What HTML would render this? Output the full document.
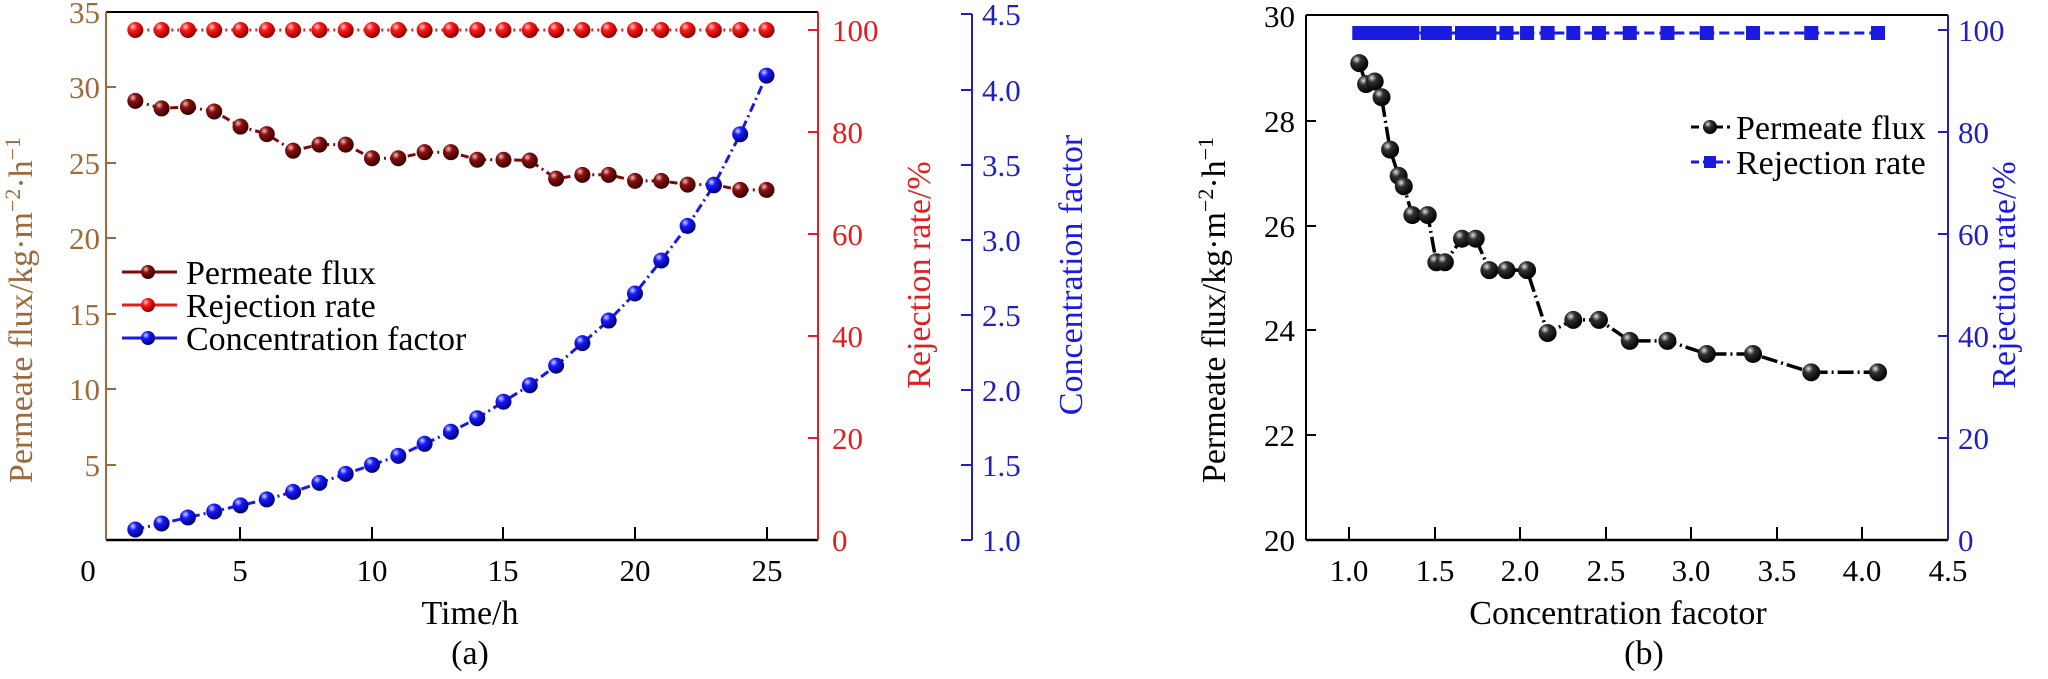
<!DOCTYPE html>
<html><head><meta charset="utf-8"><style>
html,body{margin:0;padding:0;background:#fff;}
svg{display:block;}
svg text, svg tspan{font-family:"Liberation Serif","Times New Roman",serif;}
</style></head><body>
<svg id="s" width="2048" height="679" viewBox="0 0 2048 679" xmlns="http://www.w3.org/2000/svg" font-family="Liberation Serif, serif">
<defs>
<radialGradient id="gBr" cx="0.35" cy="0.3" r="0.7"><stop offset="0" stop-color="#f0c0c0"/><stop offset="0.35" stop-color="#8b1010"/><stop offset="1" stop-color="#3a0000"/></radialGradient>
<radialGradient id="gRd" cx="0.35" cy="0.3" r="0.7"><stop offset="0" stop-color="#ffd0d0"/><stop offset="0.35" stop-color="#ff1a1a"/><stop offset="1" stop-color="#900000"/></radialGradient>
<radialGradient id="gBl" cx="0.35" cy="0.3" r="0.7"><stop offset="0" stop-color="#d0d8ff"/><stop offset="0.35" stop-color="#1a1aff"/><stop offset="1" stop-color="#00007a"/></radialGradient>
<radialGradient id="gBk" cx="0.35" cy="0.3" r="0.7"><stop offset="0" stop-color="#e0e0e0"/><stop offset="0.35" stop-color="#303030"/><stop offset="1" stop-color="#000"/></radialGradient>
</defs>

<!-- ===== Chart (a) ===== -->
<line x1="106" y1="12" x2="818" y2="12" stroke="#000" stroke-width="2"/>
<line x1="106" y1="540" x2="818" y2="540" stroke="#000" stroke-width="2.5"/>
<line x1="106" y1="12" x2="106" y2="540" stroke="#9c6b3c" stroke-width="2"/>
<line x1="818" y1="12" x2="818" y2="540" stroke="#e02020" stroke-width="2"/>
<line x1="972" y1="14" x2="972" y2="540" stroke="#2020c0" stroke-width="2"/>
<g stroke="#9c6b3c" stroke-width="2">
<line x1="106" y1="87" x2="116" y2="87"/><line x1="106" y1="163" x2="116" y2="163"/><line x1="106" y1="238" x2="116" y2="238"/><line x1="106" y1="314" x2="116" y2="314"/><line x1="106" y1="389" x2="116" y2="389"/><line x1="106" y1="465" x2="116" y2="465"/>
</g>
<g fill="#9c6b3c" font-size="31" text-anchor="end">
<text x="100" y="23">35</text><text x="100" y="98">30</text><text x="100" y="174">25</text><text x="100" y="249">20</text><text x="100" y="325">15</text><text x="100" y="400">10</text><text x="100" y="476">5</text>
</g>
<text transform="translate(32,310) rotate(-90)" fill="#9c6b3c" font-size="34" text-anchor="middle">Permeate flux/kg·m<tspan dy="-12" font-size="22">−2</tspan><tspan dy="12">·h</tspan><tspan dy="-12" font-size="22">−1</tspan></text>
<g stroke="#000" stroke-width="2">
<line x1="240" y1="540" x2="240" y2="527"/><line x1="372" y1="540" x2="372" y2="527"/><line x1="503" y1="540" x2="503" y2="527"/><line x1="635" y1="540" x2="635" y2="527"/><line x1="767" y1="540" x2="767" y2="527"/>
</g>
<g fill="#000" font-size="31" text-anchor="middle">
<text x="88" y="581">0</text><text x="240" y="581">5</text><text x="372" y="581">10</text><text x="503" y="581">15</text><text x="635" y="581">20</text><text x="767" y="581">25</text>
</g>
<text x="470" y="624" font-size="34" text-anchor="middle">Time/h</text>
<text x="470" y="664" font-size="34" text-anchor="middle">(a)</text>
<g stroke="#e02020" stroke-width="2">
<line x1="808" y1="30" x2="818" y2="30"/><line x1="808" y1="132" x2="818" y2="132"/><line x1="808" y1="234" x2="818" y2="234"/><line x1="808" y1="336" x2="818" y2="336"/><line x1="808" y1="438" x2="818" y2="438"/>
</g>
<g fill="#e02020" font-size="31">
<text x="832" y="41">100</text><text x="832" y="143">80</text><text x="832" y="245">60</text><text x="832" y="347">40</text><text x="832" y="449">20</text><text x="832" y="551">0</text>
</g>
<text transform="translate(930,275) rotate(-90)" fill="#e02020" font-size="34" text-anchor="middle">Rejection rate/%</text>
<g stroke="#2020c0" stroke-width="2">
<line x1="961" y1="14" x2="972" y2="14"/><line x1="961" y1="90" x2="972" y2="90"/><line x1="961" y1="165" x2="972" y2="165"/><line x1="961" y1="240" x2="972" y2="240"/><line x1="961" y1="315" x2="972" y2="315"/><line x1="961" y1="390" x2="972" y2="390"/><line x1="961" y1="465" x2="972" y2="465"/><line x1="961" y1="540" x2="972" y2="540"/>
</g>
<g fill="#2020c0" font-size="31">
<text x="982" y="25">4.5</text><text x="982" y="101">4.0</text><text x="982" y="176">3.5</text><text x="982" y="251">3.0</text><text x="982" y="326">2.5</text><text x="982" y="401">2.0</text><text x="982" y="476">1.5</text><text x="982" y="551">1.0</text>
</g>
<text transform="translate(1082,275) rotate(-90)" fill="#1a1ae0" font-size="34" text-anchor="middle">Concentration factor</text>

<g id="aseries"></g>
<!-- legend a -->
<g stroke-width="3">
<line x1="122" y1="272" x2="177" y2="272" stroke="#7a0a0a"/>
<line x1="122" y1="305" x2="177" y2="305" stroke="#e02020"/>
<line x1="122" y1="338" x2="177" y2="338" stroke="#1a1ae0"/>
</g>
<circle cx="148" cy="272" r="7" fill="url(#gBr)"/>
<circle cx="148" cy="305" r="7" fill="url(#gRd)"/>
<circle cx="148" cy="338" r="7" fill="url(#gBl)"/>
<g font-size="34" fill="#000">
<text x="186" y="284">Permeate flux</text><text x="186" y="317">Rejection rate</text><text x="186" y="350">Concentration factor</text>
</g>

<!-- ===== Chart (b) ===== -->
<line x1="1306" y1="15" x2="1948" y2="15" stroke="#000" stroke-width="2"/>
<line x1="1306" y1="540" x2="1948" y2="540" stroke="#000" stroke-width="2.5"/>
<line x1="1306" y1="15" x2="1306" y2="540" stroke="#000" stroke-width="2"/>
<line x1="1948" y1="15" x2="1948" y2="540" stroke="#2020c0" stroke-width="2"/>
<g stroke="#000" stroke-width="2">
<line x1="1306" y1="121" x2="1316" y2="121"/><line x1="1306" y1="226" x2="1316" y2="226"/><line x1="1306" y1="330" x2="1316" y2="330"/><line x1="1306" y1="435" x2="1316" y2="435"/>
<line x1="1349" y1="540" x2="1349" y2="527"/><line x1="1435" y1="540" x2="1435" y2="527"/><line x1="1520" y1="540" x2="1520" y2="527"/><line x1="1606" y1="540" x2="1606" y2="527"/><line x1="1691" y1="540" x2="1691" y2="527"/><line x1="1777" y1="540" x2="1777" y2="527"/><line x1="1862" y1="540" x2="1862" y2="527"/>
</g>
<g fill="#000" font-size="31" text-anchor="end">
<text x="1295" y="27">30</text><text x="1295" y="132">28</text><text x="1295" y="237">26</text><text x="1295" y="341">24</text><text x="1295" y="446">22</text><text x="1295" y="551">20</text>
</g>
<g fill="#000" font-size="31" text-anchor="middle">
<text x="1349" y="581">1.0</text><text x="1435" y="581">1.5</text><text x="1520" y="581">2.0</text><text x="1606" y="581">2.5</text><text x="1691" y="581">3.0</text><text x="1777" y="581">3.5</text><text x="1862" y="581">4.0</text><text x="1948" y="581">4.5</text>
</g>
<text transform="translate(1225,310) rotate(-90)" fill="#000" font-size="34" text-anchor="middle">Permeate flux/kg·m<tspan dy="-12" font-size="22">−2</tspan><tspan dy="12">·h</tspan><tspan dy="-12" font-size="22">−1</tspan></text>
<text x="1618" y="624" font-size="34" text-anchor="middle">Concentration facotor</text>
<text x="1644" y="664" font-size="34" text-anchor="middle">(b)</text>
<g stroke="#2020c0" stroke-width="2">
<line x1="1938" y1="30" x2="1948" y2="30"/><line x1="1938" y1="132" x2="1948" y2="132"/><line x1="1938" y1="234" x2="1948" y2="234"/><line x1="1938" y1="336" x2="1948" y2="336"/><line x1="1938" y1="438" x2="1948" y2="438"/>
</g>
<g fill="#2020c0" font-size="31">
<text x="1958" y="41">100</text><text x="1958" y="143">80</text><text x="1958" y="245">60</text><text x="1958" y="347">40</text><text x="1958" y="449">20</text><text x="1958" y="551">0</text>
</g>
<text transform="translate(2015,275) rotate(-90)" fill="#1a1ae0" font-size="34" text-anchor="middle">Rejection rate/%</text>
<g id="bseries"></g>
<!-- legend b -->
<line x1="1691" y1="127" x2="1730" y2="127" stroke="#000" stroke-width="3" stroke-dasharray="8,4"/>
<circle cx="1710" cy="127" r="7" fill="url(#gBk)"/>
<line x1="1691" y1="162" x2="1730" y2="162" stroke="#1a1ae0" stroke-width="3" stroke-dasharray="8,4"/>
<rect x="1704" y="156" width="12" height="12" fill="#1a1ae0"/>
<g font-size="34" fill="#000">
<text x="1736" y="139">Permeate flux</text><text x="1736" y="174">Rejection rate</text>
</g>
</svg>
<script>
var NS="http://www.w3.org/2000/svg";
function el(p,t,a){var e=document.createElementNS(NS,t);for(var k in a)e.setAttribute(k,a[k]);p.appendChild(e);return e;}
var flux=[29.1,28.7,28.75,28.45,27.45,26.95,26.75,26.2,26.2,25.3,25.3,25.75,25.75,25.15,25.15,25.15,23.95,24.2,24.2,23.8,23.8,23.55,23.55,23.2,23.2];
var fluxA=[29.1,28.6,28.7,28.4,27.4,26.9,25.8,26.2,26.2,25.3,25.3,25.7,25.7,25.2,25.2,25.15,23.95,24.2,24.2,23.8,23.8,23.55,23.55,23.2,23.2];
var conc=[1.06,1.10,1.15,1.19,1.24,1.29,1.32,1.37,1.46,1.51,1.56,1.66,1.74,1.82,1.92,2.04,2.16,2.31,2.46,2.64,2.86,3.09,3.36,3.70,4.09];
var concA=[1.07,1.11,1.15,1.19,1.23,1.27,1.32,1.38,1.44,1.50,1.56,1.64,1.72,1.81,1.92,2.03,2.16,2.31,2.46,2.64,2.86,3.09,3.36,3.70,4.09];
var A=document.getElementById('aseries'),B=document.getElementById('bseries');
function xa(t){return 109+26.3*t;}
function pts(arr){return arr.map(function(p){return p[0].toFixed(1)+","+p[1].toFixed(1)}).join(" ");}
var pf=[],pr=[],pc=[];
for(var i=0;i<25;i++){var x=xa(i+1);pf.push([x,540-15.09*fluxA[i]]);pr.push([x,30]);pc.push([x,540-(concA[i]-1)*150.3]);}
el(A,'polyline',{points:pts(pf),fill:'none',stroke:'#7a0a0a','stroke-width':3,'stroke-dasharray':'8,4,2,4'});
el(A,'polyline',{points:pts(pr),fill:'none',stroke:'#e02020','stroke-width':3,'stroke-dasharray':'2,4'});
el(A,'polyline',{points:pts(pc),fill:'none',stroke:'#1a1ae0','stroke-width':3,'stroke-dasharray':'9,4,2,4'});
pr.forEach(function(p){el(A,'circle',{cx:p[0],cy:p[1],r:8,fill:'url(#gRd)'});});
pf.forEach(function(p){el(A,'circle',{cx:p[0],cy:p[1],r:8,fill:'url(#gBr)'});});
pc.forEach(function(p){el(A,'circle',{cx:p[0],cy:p[1],r:8,fill:'url(#gBl)'});});
function xb(c){return 1349+(c-1)*171.2;}
var bf=[],bs=[];
for(var i=0;i<25;i++){var x=xb(conc[i]);bf.push([x,540-(flux[i]-20)*52.4]);bs.push([x,33]);}
el(B,'polyline',{points:pts(bs),fill:'none',stroke:'#1a1ae0','stroke-width':3,'stroke-dasharray':'10,5'});
bs.forEach(function(p){el(B,'rect',{x:p[0]-7,y:p[1]-7,width:14,height:14,fill:'#1a1ae0'});});
el(B,'polyline',{points:pts(bf),fill:'none',stroke:'#000','stroke-width':3.5,'stroke-dasharray':'16,4,2,4'});
bf.forEach(function(p){el(B,'circle',{cx:p[0],cy:p[1],r:9,fill:'url(#gBk)'});});
</script>
</body></html>
